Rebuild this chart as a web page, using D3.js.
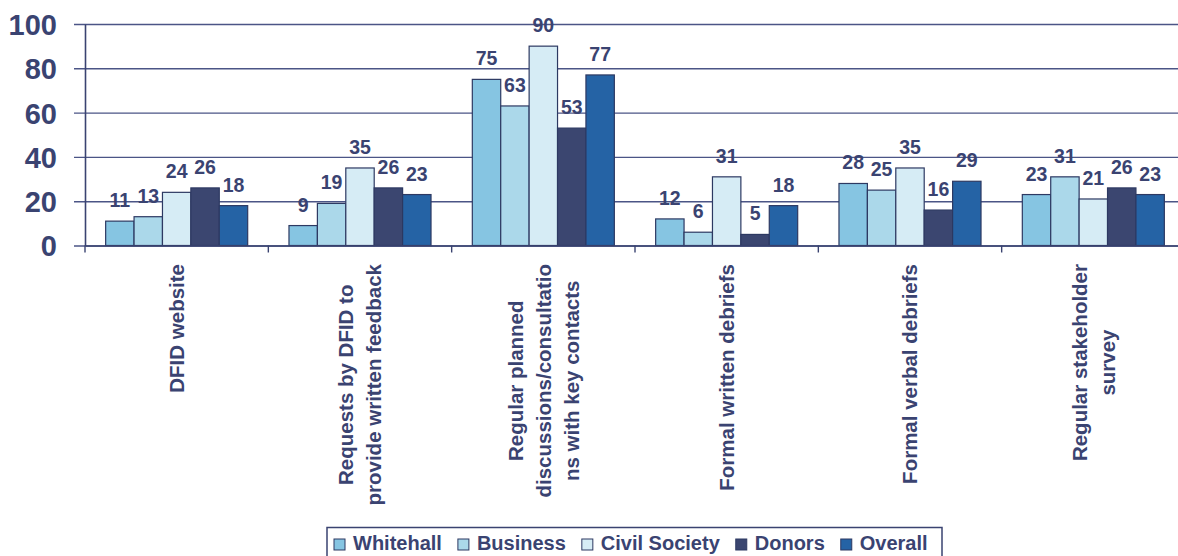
<!DOCTYPE html>
<html>
<head>
<meta charset="utf-8">
<script src="https://cdn.jsdelivr.net/npm/d3@7"></script>
<style>
  html, body { margin: 0; padding: 0; background: #fff; }
  svg { display: block; font-family: "Liberation Sans", Arial, sans-serif; font-weight: bold; }
</style>
</head>
<body>
<svg id="chart" width="1178" height="556"></svg>
<script>
// Feedback channels by stakeholder group (%)
const categories = [
  ["DFID website"],
  ["Requests by DFID to", "provide written feedback"],
  ["Regular planned", "discussions/consultatio", "ns with key contacts"],
  ["Formal written debriefs"],
  ["Formal verbal debriefs"],
  ["Regular stakeholder", "survey"]
];
const series = ["Whitehall", "Business", "Civil Society", "Donors", "Overall"];
const whitehall    = [11, 9, 75, 12, 28, 23];
const business     = [13, 19, 63, 6, 25, 31];
const civilSociety = [24, 35, 90, 31, 35, 21];
const donors       = [26, 26, 53, 5, 16, 26];
const overall      = [18, 23, 77, 18, 29, 23];
const yTicks = [0, 20, 40, 60, 80, 100];

const seriesValues = [whitehall, business, civilSociety, donors, overall];
const colors = ["#86c5e2", "#abd8ea", "#d6ecf5", "#3b4670", "#2563a5"];
const ink = "#3a4371";
const gridColor = "#4b5586";

const svg = d3.select("#chart");
const catKeys = categories.map((c, i) => i);

const x0 = d3.scaleBand().domain(catKeys).range([85, 1185]).padding(0);
const x1 = d3.scaleBand().domain(series).range([0, x0.bandwidth()])
  .paddingInner(0).paddingOuter(0.727);
const y = d3.scaleLinear().domain([0, 100]).range([245.5, 24]);

// gridlines
svg.append("g")
  .attr("transform", "translate(74,0)")
  .call(d3.axisLeft(y).tickValues(yTicks).tickSize(-1120).tickFormat(""))
  .call(g => g.select(".domain").remove())
  .call(g => g.selectAll("line").attr("stroke", gridColor).attr("stroke-width", 1.4));

// y axis with labels
svg.append("g")
  .attr("transform", "translate(85,0)")
  .call(d3.axisLeft(y).tickValues(yTicks).tickSize(0).tickPadding(28).tickFormat(d3.format("d")))
  .call(g => g.select(".domain").attr("stroke", ink).attr("stroke-width", 1.6))
  .call(g => g.selectAll("text")
    .attr("fill", ink)
    .style("font-size", "29px")
    .style("font-weight", "bold")
    .style("font-family", "'Liberation Sans', Arial, sans-serif")
    .attr("dy", "0.36em"));

// bars
const groups = svg.append("g").selectAll("g")
  .data(catKeys)
  .join("g")
  .attr("transform", i => `translate(${x0(i)},0)`);

groups.selectAll("rect")
  .data(i => series.map((s, k) => ({ s, k, v: seriesValues[k][i] })))
  .join("rect")
  .attr("x", d => x1(d.s))
  .attr("y", d => y(d.v))
  .attr("width", x1.bandwidth())
  .attr("height", d => y(0) - y(d.v))
  .attr("fill", d => colors[d.k])
  .attr("stroke", "#2d3962")
  .attr("stroke-width", 1.2);

// value labels
groups.selectAll("text.val")
  .data(i => series.map((s, k) => ({ s, k, v: seriesValues[k][i] })))
  .join("text")
  .attr("class", "val")
  .attr("x", d => x1(d.s) + x1.bandwidth() / 2)
  .attr("y", d => y(d.v) - 14)
  .attr("text-anchor", "middle")
  .attr("fill", ink)
  .style("font-size", "19.5px")
  .text(d => d.v);

// x axis
svg.append("g")
  .attr("transform", `translate(0,${y(0)})`)
  .call(d3.axisBottom(x0).tickSize(0).tickFormat(""))
  .call(g => g.select(".domain").attr("stroke", ink).attr("stroke-width", 1.6));

// category boundary ticks
const edges = catKeys.map(i => x0(i)).concat([x0(catKeys.length - 1) + x0.bandwidth()]);
svg.append("g").selectAll("line")
  .data(edges)
  .join("line")
  .attr("x1", d => d).attr("x2", d => d)
  .attr("y1", y(0)).attr("y2", y(0) + 7)
  .attr("stroke", ink).attr("stroke-width", 1.4);

// rotated category labels
const lineGap = 28;
const catFont = 20.5;
const catLabels = svg.append("g");
categories.forEach((lines, i) => {
  const cx = x0(i) + x0.bandwidth() / 2;
  const g = catLabels.append("g");
  const texts = lines.map((ln, j) => {
    const bx = cx + (j - (lines.length - 1) / 2) * lineGap + catFont * 0.35;
    return g.append("text")
      .attr("fill", ink)
      .style("font-size", catFont + "px")
      .attr("text-anchor", "middle")
      .attr("data-bx", bx)
      .text(ln);
  });
  const maxW = d3.max(texts, t => t.node().getComputedTextLength());
  const cy = 264 + maxW / 2;
  texts.forEach(t => {
    const bx = +t.attr("data-bx");
    t.attr("transform", `translate(${bx},${cy}) rotate(-90)`).attr("data-bx", null);
  });
});

// legend
const legend = svg.append("g");
legend.append("rect")
  .attr("x", 327).attr("y", 527.5)
  .attr("width", 615).attr("height", 40)
  .attr("fill", "#fff")
  .attr("stroke", ink).attr("stroke-width", 1.5);

const items = legend.selectAll("g.item")
  .data(series)
  .join("g")
  .attr("class", "item");
items.append("rect")
  .attr("width", 11).attr("height", 11)
  .attr("y", 539)
  .attr("fill", (d, k) => colors[k])
  .attr("stroke", "#2d3962").attr("stroke-width", 1);
items.append("text")
  .attr("x", 19)
  .attr("y", 550)
  .attr("fill", ink)
  .style("font-size", "20px")
  .text(d => d);

let cursor = 334;
const gap = 16;
items.each(function () {
  const g = d3.select(this);
  const w = 19 + g.select("text").node().getComputedTextLength();
  g.attr("transform", `translate(${cursor},0)`);
  cursor += w + gap;
});
</script>
</body>
</html>
